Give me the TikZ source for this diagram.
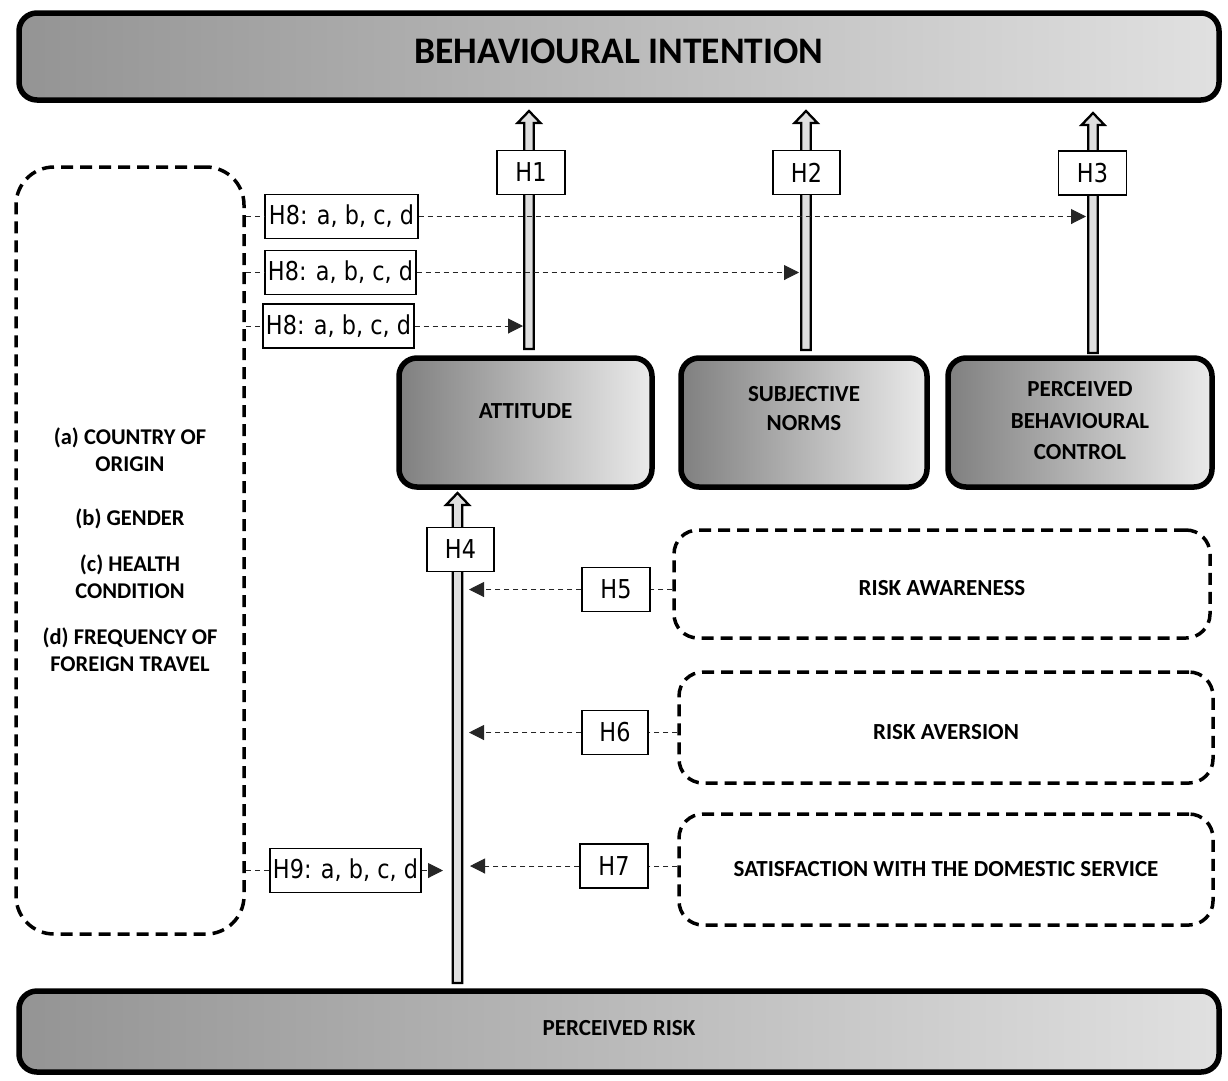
\documentclass[tikz,border=0pt]{standalone}
\usepackage{fontspec}
\setmainfont{Carlito}
\newfontfamily\hfont[FakeStretch=0.86]{DejaVu Sans}
\usetikzlibrary{arrows.meta}
\newcommand\fatup[3]{\draw[fat] (#1-4.8,#2) -- (#1-4.8,#3+12) -- (#1-11.5,#3+12) -- (#1,#3) -- (#1+11.5,#3+12) -- (#1+4.8,#3+12) -- (#1+4.8,#2) -- cycle;}
\begin{document}
\begin{tikzpicture}[x=1pt,y=-1pt,
 gbox/.style={draw, line width=5.5pt, rounded corners=18pt, inner sep=0pt},
 wideshade/.style={left color=black!42, right color=black!12},
 smallshade/.style={left color=black!50, right color=black!8},
 dbox/.style={draw, line width=3.5pt, dash pattern=on 12pt off 7pt, rounded corners=24pt, inner sep=0pt},
 btext/.style={font=\fontsize{23}{28}\selectfont\bfseries, align=center, inner sep=0pt},
 ltext/.style={font=\fontsize{22.5}{27}\selectfont\bfseries, align=center, inner sep=0pt},
 hbox/.style={draw, line width=1.3pt, fill=white, font=\hfont\fontsize{26}{30}\selectfont, inner sep=0pt, minimum height=44pt},
 dline/.style={draw=black!85, line width=1pt, dash pattern=on 5pt off 4pt},
 tip/.style={-{Triangle[length=15pt,width=15pt]}},
 fat/.style={draw, line width=2.3pt, fill=black!13, line join=miter}
]
\useasboundingbox (0,0) rectangle (1228,1080);

% big boxes
\node[gbox, wideshade, minimum width=1200pt, minimum height=87pt] (BI) at (619,56.5) {};
\node[btext, font=\fontsize{37.5}{40}\selectfont\bfseries] (BIt) at (619,51) {BEHAVIOURAL INTENTION};
\node[gbox, wideshade, minimum width=1200pt, minimum height=81pt] (PR) at (619,1031.5) {};
\node[btext] (PRt) at (619,1028.5) {PERCEIVED RISK};

\node[gbox, smallshade, minimum width=253pt, minimum height=129pt] (ATT) at (525.5,422.5) {};
\node[btext] (ATTt) at (525.5,411.5) {ATTITUDE};
\node[gbox, smallshade, minimum width=246pt, minimum height=129pt] (SN) at (804,422.5) {};
\node[btext, font=\fontsize{23}{29}\selectfont\bfseries] (SNt) at (804,409) {SUBJECTIVE\\NORMS};
\node[gbox, smallshade, minimum width=264pt, minimum height=129pt] (PBC) at (1080,422.5) {};
\node[btext, font=\fontsize{23}{31.5}\selectfont\bfseries] (PBCt) at (1080,421) {PERCEIVED\\BEHAVIOURAL\\CONTROL};

% dashed boxes
\node[dbox, rounded corners=38pt, minimum width=228pt, minimum height=767pt] (LB) at (130,550.5) {};
\node[ltext] (La) at (130,450) {(a) COUNTRY OF\\ORIGIN};
\node[ltext] (Lb) at (130,519) {(b) GENDER};
\node[ltext] (Lc) at (130,576.5) {(c) HEALTH\\CONDITION};
\node[ltext] (Ld) at (130,650) {(d) FREQUENCY OF\\FOREIGN TRAVEL};

\node[dbox, minimum width=536pt, minimum height=108pt] (AW) at (942,584) {};
\node[btext] (AWt) at (942,588) {RISK AWARENESS};
\node[dbox, minimum width=534pt, minimum height=111pt] (AV) at (946,727.5) {};
\node[btext] (AVt) at (946,732) {RISK AVERSION};
\node[dbox, minimum width=534pt, minimum height=111pt] (SA) at (946,869.5) {};
\node[btext] (SAt) at (946,869) {SATISFACTION WITH THE DOMESTIC SERVICE};

% fat arrows
\fatup{529}{349}{111}
\fatup{806}{350}{111}
\fatup{1093}{353}{113}
\fatup{457.5}{983}{493}

% arrow end coordinates
\coordinate (t8a) at (1086,216.5);
\coordinate (t8b) at (799,272.5);
\coordinate (t8c) at (523,326);
\coordinate (t9) at (443,870.5);
\coordinate (t5) at (469,589.5);
\coordinate (t6) at (469,732.5);
\coordinate (t7) at (470,866);

% H boxes
\node[hbox, minimum width=153pt] (H8a) at (341.5,216.5) {H8: a, b, c, d};
\node[hbox, minimum width=151pt] (H8b) at (340.5,272.5) {H8: a, b, c, d};
\node[hbox, minimum width=151pt] (H8c) at (338.5,326) {H8: a, b, c, d};
\node[hbox, minimum width=151pt] (H9) at (345.5,870.5) {H9: a, b, c, d};
\node[hbox, minimum width=67pt] (H4) at (460.5,549.5) {H4};
\node[hbox, minimum width=68pt] (H5) at (616,589.5) {H5};
\node[hbox, minimum width=66pt] (H6) at (615,732.5) {H6};
\node[hbox, minimum width=68pt] (H7) at (614,866) {H7};

% dashed connectors (drawn over shafts)
\draw[dline] (LB.east |- H8a.west) -- (H8a.west);
\draw[dline, tip] (H8a.east) -- (t8a);
\draw[dline] (LB.east |- H8b.west) -- (H8b.west);
\draw[dline, tip] (H8b.east) -- (t8b);
\draw[dline] (LB.east |- H8c.west) -- (H8c.west);
\draw[dline, tip] (H8c.east) -- (t8c);
\draw[dline] (LB.east |- H9.west) -- (H9.west);
\draw[dline, tip] (H9.east) -- (t9);
\draw[dline] (AW.west |- H5.east) -- (H5.east);
\draw[dline, tip] (H5.west) -- (t5);
\draw[dline] (AV.west |- H6.east) -- (H6.east);
\draw[dline, tip] (H6.west) -- (t6);
\draw[dline] (SA.west |- H7.east) -- (H7.east);
\draw[dline, tip] (H7.west) -- (t7);

% H boxes on the upper shafts
\node[hbox, minimum width=68pt] (H1) at (531,172.5) {H1};
\node[hbox, minimum width=67pt] (H2) at (806.5,172.5) {H2};
\node[hbox, minimum width=68pt] (H3) at (1092.5,173) {H3};
\end{tikzpicture}
\end{document}
